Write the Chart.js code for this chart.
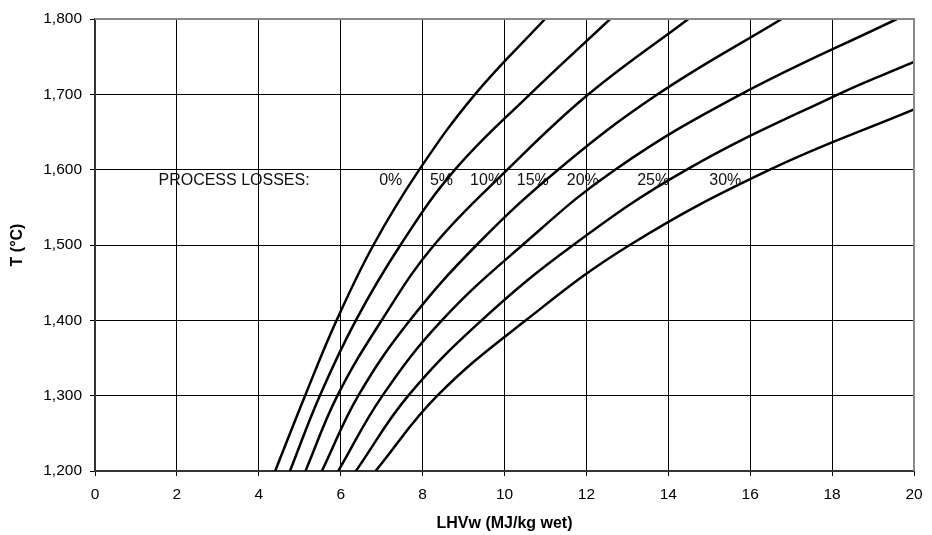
<!DOCTYPE html>
<html>
<head>
<meta charset="utf-8">
<script src="https://cdn.jsdelivr.net/npm/chart.js@4"></script>
<style>
  html, body { margin: 0; padding: 0; background: #fff; }
  #wrap { width: 932px; height: 535px; }
</style>
</head>
<body>
<div id="wrap"><canvas id="chart"></canvas></div>
<script>
// Temperatures where each curve was read (°C)
const tempLevels = [1200, 1300, 1400, 1500, 1600, 1700, 1800];

// LHVw (MJ/kg wet) at those temperatures, one array per process loss
const lhv0 = [4.40, 5.13, 5.90, 6.80, 7.92, 9.28, 10.99];
const lhv5 = [4.76, 5.49, 6.37, 7.46, 8.79, 10.62, 12.58];
const lhv10 = [5.14, 5.92, 7.00, 8.28, 10.07, 12.05, 14.49];
const lhv15 = [5.54, 6.43, 7.69, 9.32, 11.31, 13.74, 16.77];
const lhv20 = [5.94, 7.02, 8.47, 10.44, 12.70, 15.77, 19.58];
const lhv25 = [6.37, 7.65, 9.44, 11.68, 14.45, 18.15, 20];
const temp25 = [1200, 1300, 1400, 1500, 1600, 1700, 1743];
const lhv30 = [6.85, 8.36, 10.52, 13.06, 16.48, 20];
const temp30 = [1200, 1300, 1400, 1500, 1600, 1680];

const lossLabels = ['0%', '5%', '10%', '15%', '20%', '25%', '30%'];
const headerLabel = 'PROCESS LOSSES:';

const xTicks = [0, 2, 4, 6, 8, 10, 12, 14, 16, 18, 20];
const yTicks = [1200, 1300, 1400, 1500, 1600, 1700, 1800];

// where the in-plot labels sit, in data units
const headerAt = 1.55;
const lossLabelAt = [6.94, 8.18, 9.16, 10.30, 11.52, 13.24, 15.0];
const labelTemp = 1586;

const FONT = "'Liberation Sans', Arial, sans-serif";

function toPoints(xs, ys) {
    return xs.map((x, i) => ({ x: x, y: ys[i] }));
}

const series = [
    toPoints(lhv0, tempLevels),
    toPoints(lhv5, tempLevels),
    toPoints(lhv10, tempLevels),
    toPoints(lhv15, tempLevels),
    toPoints(lhv20, tempLevels),
    toPoints(lhv25, temp25),
    toPoints(lhv30, temp30)
];

// Border at top/right and the in-plot text
const overlayPlugin = {
    id: 'overlay',
    afterDatasetsDraw(chart) {
        const { ctx, chartArea, scales } = chart;
        ctx.save();
        ctx.strokeStyle = '#8a8a8a';
        ctx.lineWidth = 2;
        ctx.beginPath();
        ctx.moveTo(chartArea.left, chartArea.top);
        ctx.lineTo(chartArea.right, chartArea.top);
        ctx.lineTo(chartArea.right, chartArea.bottom);
        ctx.stroke();

        ctx.fillStyle = '#111';
        ctx.font = '16px ' + FONT;
        ctx.textAlign = 'left';
        ctx.textBaseline = 'middle';
        const y = scales.y.getPixelForValue(labelTemp);
        ctx.fillText(headerLabel, scales.x.getPixelForValue(headerAt), y);
        lossLabels.forEach((t, i) => {
            ctx.fillText(t, scales.x.getPixelForValue(lossLabelAt[i]), y);
        });
        ctx.restore();
    }
};

new Chart(document.getElementById('chart'), {
    type: 'scatter',
    data: {
        datasets: series.map((pts, i) => ({
            label: lossLabels[i],
            data: pts,
            showLine: true,
            borderColor: '#000',
            borderWidth: 2.5,
            pointRadius: 0,
            tension: 0.4,
            fill: false
        }))
    },
    options: {
        responsive: true,
        maintainAspectRatio: false,
        animation: false,
        layout: { padding: { top: 19, right: 18, left: 0, bottom: 0 } },
        plugins: {
            legend: { display: false },
            tooltip: { enabled: false }
        },
        scales: {
            x: {
                type: 'linear',
                min: 0,
                max: 20,
                afterBuildTicks: (s) => { s.ticks = xTicks.map(v => ({ value: v })); },
                afterFit: (s) => { s.height = 64; },
                grid: { color: '#000', lineWidth: 1, tickLength: 5 },
                border: { color: '#333', width: 2 },
                ticks: {
                    color: '#000',
                    padding: 9,
                    font: { family: FONT, size: 15.5 },
                    maxRotation: 0
                },
                title: {
                    display: true,
                    text: 'LHVw (MJ/kg wet)',
                    color: '#000',
                    font: { family: FONT, size: 16, weight: 'bold' },
                    padding: { top: 0, bottom: 2 }
                }
            },
            y: {
                type: 'linear',
                min: 1200,
                max: 1800,
                afterBuildTicks: (s) => { s.ticks = yTicks.map(v => ({ value: v })); },
                afterFit: (s) => { s.width = 95; },
                grid: { color: '#000', lineWidth: 1, tickLength: 5 },
                border: { color: '#333', width: 2 },
                ticks: {
                    color: '#000',
                    padding: 8,
                    font: { family: FONT, size: 15.5 },
                    callback: (v) => v.toLocaleString('en-US')
                },
                title: {
                    display: true,
                    text: 'T (°C)',
                    color: '#000',
                    font: { family: FONT, size: 16, weight: 'bold' },
                    padding: { top: 8, bottom: 0 }
                }
            }
        }
    },
    plugins: [overlayPlugin]
});
</script>
</body>
</html>
